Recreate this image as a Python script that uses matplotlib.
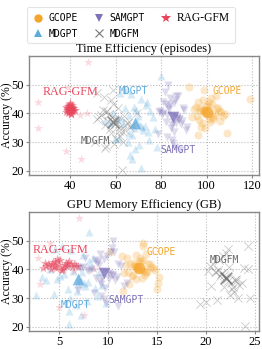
import numpy as np
import matplotlib
matplotlib.use("Agg")
import matplotlib.pyplot as plt
from matplotlib.lines import Line2D

SERIF = "Liberation Serif"
MONO = "DejaVu Sans Mono"

# accuracy (%), time (episodes), GPU memory (GB) per run
gcope_acc = [40.5, 41.2, 39.8, 42.0, 38.9, 40.1, 43.1, 37.6, 41.8, 39.2,
             44.0, 36.5, 40.9, 42.6, 38.1, 41.5, 39.5, 45.2, 35.4, 40.3,
             43.8, 37.9, 41.0, 39.0, 42.9, 38.6, 46.1, 34.8, 40.7, 41.9,
             36.9, 44.6, 39.9, 42.3, 37.2, 33.1, 48.0, 49.2, 45.0, 32.4]
gcope_time = [100.2, 98.5, 101.6, 97.3, 103.0, 99.1, 102.4, 96.8, 104.1, 95.9,
              100.9, 98.0, 105.3, 99.7, 101.1, 94.6, 103.7, 101.8, 97.7, 106.5,
              96.4, 102.8, 98.9, 107.2, 100.5, 93.5, 103.9, 99.4, 97.0, 104.8,
              101.3, 98.2, 108.0, 95.2, 105.9, 109.0, 99.0, 92.3, 119.0, 96.0]
gcope_mem = [13.0, 12.6, 13.4, 12.2, 13.8, 12.9, 13.5, 12.4, 14.1, 12.0,
             13.2, 12.8, 14.4, 13.1, 12.5, 11.8, 13.6, 13.9, 15.1, 14.6,
             11.9, 13.7, 12.7, 14.0, 13.3, 11.6, 10.2, 12.1, 12.9, 14.3,
             13.4, 11.4, 14.8, 12.6, 15.2, 15.0, 13.5, 13.5, 12.8, 11.5]

mdgpt_acc = [37.0, 39.5, 34.2, 41.8, 36.1, 32.5, 43.0, 38.4, 35.0, 40.7,
             30.1, 44.9, 37.8, 33.6, 42.2, 36.6, 29.0, 46.8, 38.9, 31.4,
             35.7, 40.1, 27.5, 48.0, 34.6, 39.0, 25.6, 44.1, 36.4, 33.0,
             41.3, 30.8, 37.5, 53.0, 21.0, 24.0, 47.2, 28.3, 31.2, 35.3]
mdgpt_time = [69.5, 66.0, 72.1, 64.2, 70.8, 67.3, 73.5, 62.5, 68.1, 75.0,
              65.4, 71.2, 60.8, 74.3, 67.9, 63.3, 70.2, 66.8, 76.5, 61.7,
              72.8, 58.9, 68.6, 64.8, 77.4, 70.0, 66.5, 73.9, 57.5, 65.9,
              69.0, 74.8, 55.4, 80.0, 71.0, 67.0, 62.0, 78.3, 59.8, 71.6]
mdgpt_mem = [7.0, 6.4, 7.6, 5.8, 7.2, 6.8, 8.0, 5.5, 6.9, 8.3,
             6.1, 7.4, 5.1, 8.6, 6.6, 4.8, 7.8, 6.2, 9.0, 4.4,
             7.9, 4.0, 6.7, 5.3, 9.4, 7.3, 6.0, 8.4, 3.6, 5.9,
             7.1, 8.8, 3.2, 8.0, 6.0, 7.2, 4.6, 9.8, 2.6, 7.5]

samgpt_acc = [39.0, 41.5, 36.8, 43.2, 38.1, 34.9, 44.8, 40.2, 37.4, 42.1,
              33.5, 46.0, 39.7, 35.8, 41.0, 31.9, 38.6, 45.3, 36.2, 40.8,
              29.5, 47.4, 37.9, 42.9, 34.1, 39.4, 28.3, 44.0, 36.9, 41.7,
              32.8, 38.3, 50.0, 27.2, 43.6, 35.3, 40.4, 30.6, 45.9, 37.1]
samgpt_time = [85.0, 83.5, 86.7, 82.1, 88.0, 84.2, 86.0, 81.0, 89.2, 83.0,
               85.8, 87.5, 80.2, 84.6, 90.1, 82.8, 86.9, 83.9, 88.7, 79.5,
               85.4, 81.8, 87.8, 84.0, 90.8, 82.5, 86.3, 80.8, 85.2, 89.8,
               78.6, 87.1, 83.2, 88.4, 85.6, 91.5, 79.0, 84.8, 86.5, 82.3]
samgpt_mem = [9.5, 9.0, 10.1, 8.6, 10.5, 9.3, 9.9, 8.2, 10.9, 8.8,
              9.7, 10.3, 7.8, 9.2, 11.3, 8.5, 10.0, 9.1, 10.7, 7.4,
              9.6, 10.4, 10.4, 8.9, 11.6, 8.0, 9.8, 7.6, 9.4, 11.0,
              6.9, 10.2, 10.5, 11.0, 9.6, 11.9, 7.1, 9.3, 10.6, 8.7]

mdgfm_acc = [37.0, 38.6, 35.4, 39.8, 36.2, 34.0, 40.9, 37.7, 35.9, 39.1,
             33.1, 42.0, 36.8, 34.6, 38.2, 32.2, 41.3, 36.5, 37.4, 31.0,
             43.3, 35.1, 39.5, 33.8, 44.5, 30.0, 38.9, 36.0, 29.2, 40.4,
             34.3, 45.6, 27.8, 20.3, 48.2, 47.0, 30.1, 40.0, 28.7, 37.9]
mdgfm_time = [60.0, 58.5, 61.8, 57.0, 59.6, 62.9, 56.3, 60.8, 55.2, 63.7,
              58.0, 61.2, 64.8, 57.6, 59.1, 62.0, 54.4, 65.6, 56.8, 60.4,
              58.8, 66.5, 53.5, 61.5, 57.9, 63.2, 52.7, 67.4, 59.3, 55.8,
              64.1, 55.0, 55.5, 63.0, 59.0, 52.0, 50.8, 69.5, 56.0, 51.9]
mdgfm_mem = [22.0, 21.6, 22.5, 21.2, 22.9, 21.8, 22.3, 21.4, 23.1, 21.0,
             22.6, 20.7, 22.1, 23.4, 21.5, 22.8, 20.4, 23.0, 21.9, 22.4,
             21.3, 23.7, 20.2, 22.7, 21.7, 23.3, 20.9, 22.2, 21.1, 23.9,
             20.5, 22.0, 19.4, 24.0, 24.3, 22.2, 24.5, 24.3, 20.0, 21.8]

rag_acc = [41.5, 42.0, 41.0, 42.6, 40.7, 41.8, 40.2, 43.0, 41.2, 42.3,
           40.9, 41.6, 39.8, 42.8, 41.4, 40.5, 43.3, 41.9, 40.0, 42.1,
           41.1, 39.6, 42.5, 41.3, 40.8, 43.6, 41.7, 40.4, 42.2, 41.0,
           58.0, 49.2, 24.0, 27.0, 44.0, 35.0, 39.3, 40.0]
rag_time = [40.0, 39.2, 40.8, 39.6, 41.3, 38.7, 40.4, 39.9, 41.8, 38.3,
            39.4, 40.6, 40.2, 41.0, 38.9, 39.7, 40.1, 41.5, 39.0, 40.9,
            38.5, 40.3, 39.3, 42.0, 40.7, 39.8, 41.2, 38.1, 40.5, 39.5,
            48.0, 39.0, 45.0, 38.0, 26.0, 26.0, 44.5, 47.5]
rag_mem = [5.0, 4.2, 5.8, 4.6, 6.3, 3.8, 5.4, 4.9, 6.7, 3.5,
           4.4, 5.6, 5.2, 6.0, 3.9, 4.7, 5.1, 6.5, 4.1, 5.7,
           3.6, 5.3, 4.3, 6.9, 5.5, 4.8, 6.2, 3.3, 5.9, 4.5,
           7.0, 4.0, 7.5, 5.0, 2.8, 3.0, 6.5, 8.5]

methods = ["GCOPE", "MDGPT", "SAMGPT", "MDGFM", "RAG-GFM"]
colors = ["#F5A52B", "#5DAADD", "#7E71B9", "#6A6A6A", "#E8465C"]
markers = ["o", "^", "v", "x", "*"]
accs = [gcope_acc, mdgpt_acc, samgpt_acc, mdgfm_acc, rag_acc]
times = [gcope_time, mdgpt_time, samgpt_time, mdgfm_time, rag_time]
mems = [gcope_mem, mdgpt_mem, samgpt_mem, mdgfm_mem, rag_mem]

# label positions (x, acc) per panel
time_labels = [(109, 47.8), (68, 47.7), (87.5, 27.3), (51, 30.4), (40, 47.3)]
mem_labels = [(15.4, 46.0), (6.6, 27.6), (11.8, 29.4), (21.9, 43.4), (5.1, 46.9)]


def panel(ax, xs_all, labels, title, xlim, xticks):
    for name, c, m, xs, ys, (lx, ly) in zip(methods, colors, markers, xs_all, accs, labels):
        xs = np.array(xs)
        ys = np.array(ys)
        if m == "x":
            ax.scatter(xs, ys, s=36, marker=m, color=c, alpha=0.35, linewidths=0.6, zorder=2)
        elif m == "*":
            core = slice(0, 30)
            ax.scatter(xs[core], ys[core], s=50, marker=m, color=c, alpha=0.45,
                       linewidths=0, zorder=2)
            ax.scatter(xs[30:], ys[30:], s=45, marker=m, color=c, alpha=0.2,
                       linewidths=0, zorder=2)
        else:
            ax.scatter(xs, ys, s=34, marker=m, color=c, alpha=0.25, linewidths=0, zorder=2)
        # centre marker
        if m != "*":
            ax.scatter([np.median(xs)], [np.median(ys)], s=70, marker=m, color=c,
                       alpha=0.75, linewidths=1.2 if m == "x" else 0, zorder=3)
        if name == "RAG-GFM":
            ax.text(lx, ly, name, color=c, ha="center", va="center",
                    fontsize=8.7, family=SERIF)
        else:
            ax.text(lx, ly, name, color=c, ha="center", va="center",
                    fontsize=7, family=MONO)
    ax.set_xlim(*xlim)
    ax.set_ylim(18.5, 60)
    ax.set_xticks(xticks)
    ax.set_yticks([20, 30, 40, 50])
    ax.grid(True, linestyle=":", color="#bbbbbb", linewidth=0.8)
    ax.set_axisbelow(True)
    ax.set_title(title, fontsize=9, family=SERIF, pad=3)
    ax.set_ylabel("Accuracy (%)", fontsize=8.5, family=SERIF)
    ax.yaxis.set_label_coords(-0.07, 0.5)
    for sp in ax.spines.values():
        sp.set_color("#888888")
        sp.set_linewidth(1.0)
    ax.tick_params(labelsize=9, length=2, pad=1.5, color="#888888")
    for lab in ax.get_xticklabels() + ax.get_yticklabels():
        lab.set_family(SERIF)


fig = plt.figure(figsize=(2.62, 3.49), dpi=100)
ax1 = fig.add_axes([0.111, 0.4986, 0.8775, 0.3409])
ax2 = fig.add_axes([0.111, 0.0516, 0.8775, 0.3410])

panel(ax1, times, time_labels, "Time Efficiency (episodes)", (22, 123), [40, 60, 80, 100, 120])
panel(ax2, mems, mem_labels, "GPU Memory Efficiency (GB)", (1.9, 25.4), [5, 10, 15, 20, 25])

handles = []
for name, c, m in zip(methods, colors, markers):
    if m == "x":
        h = Line2D([], [], linestyle="", marker=m, color="#777777", markersize=6, markeredgewidth=0.8)
    else:
        h = Line2D([], [], linestyle="", marker=m, color=c, markersize=6 if m != "*" else 7,
                   markeredgewidth=0)
    handles.append(h)
leg = fig.legend(handles, methods, loc="upper center", bbox_to_anchor=(0.5, 0.993), ncol=3,
                 frameon=True, handletextpad=0.5, columnspacing=1.6, handlelength=1.2,
                 borderpad=0.5, labelspacing=0.55, prop={"family": MONO, "size": 7})
leg.get_frame().set_edgecolor("#dddddd")
leg.get_frame().set_linewidth(0.8)
for t in leg.get_texts():
    if t.get_text() == "RAG-GFM":
        t.set_family(SERIF)
        t.set_fontsize(8.3)

fig.savefig("out.png", dpi=100)
